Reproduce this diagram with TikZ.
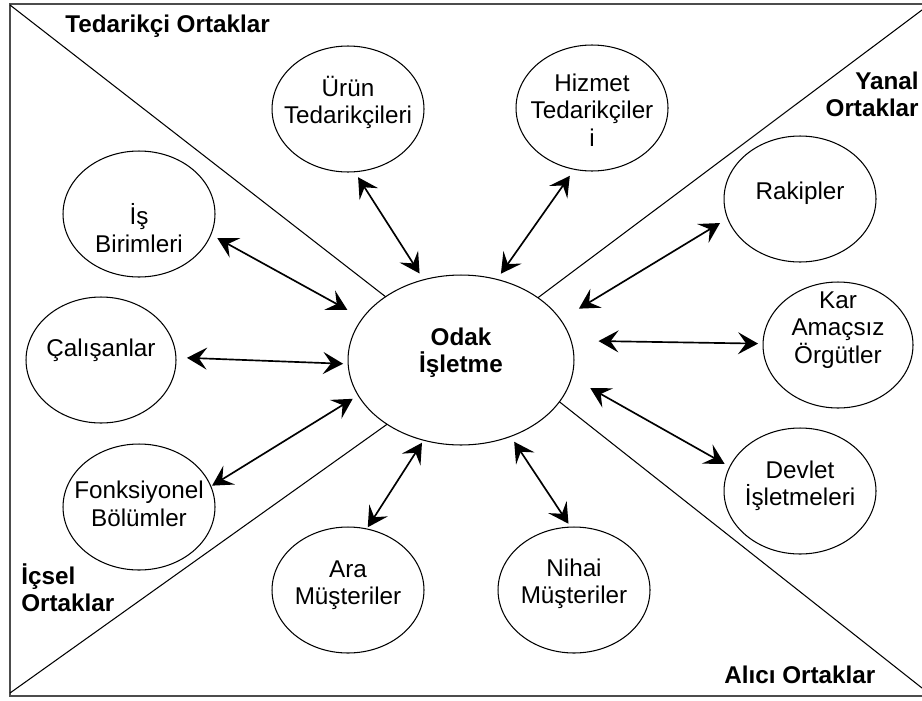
\documentclass[tikz,border=0pt]{standalone}
\usepackage{fontspec}
\setmainfont{Liberation Sans}
\usetikzlibrary{arrows.meta,shapes.geometric}

\tikzset{
  frameline/.style={draw=black!70, line width=1.1pt},
  divider/.style={draw=black, line width=0.6pt},
  ent/.style={ellipse, draw=black, line width=0.6pt, inner sep=0pt, outer sep=0pt,
              minimum width=3.04cm, minimum height=2.52cm},
  focal/.style={ellipse, draw=black, line width=0.6pt, inner sep=0pt, outer sep=0pt,
              minimum width=4.52cm, minimum height=3.4cm},
  txt/.style={align=center, inner sep=0pt, font=\fontsize{13.8}{15.6}\selectfont},
  group/.style={inner sep=0pt, font=\fontsize{13.8}{15.4}\selectfont\bfseries},
  tip/.style={Stealth[length=0.4cm, width=0.44cm, inset=0.16cm]},
  link/.style={line width=0.95pt, {Stealth[length=0.4cm, width=0.44cm, inset=0.16cm]}-{Stealth[length=0.4cm, width=0.44cm, inset=0.16cm]}}
}

\begin{document}
\begin{tikzpicture}[x=0.02cm, y=-0.02cm]
\useasboundingbox (0,0) rectangle (922,700);

% outer frame (open on the right)
\draw[frameline] (922,4) -- (10,4) -- (10,696) -- (922,696);

% focal firm
\node[focal] (odak) at (461,360) {};
\node[txt, font=\fontsize{13.8}{15.2}\selectfont\bfseries, yshift=0.14cm] (odakT) at (odak) {Odak\\İşletme};

% corners of the four partner sectors
\coordinate (tl) at (10,5);
\coordinate (tr) at (922,10);
\coordinate (bl) at (10,693);
\coordinate (br) at (922,688);
\draw[divider] (tl) -- (odak.140);
\draw[divider] (tr) -- (odak.39.7);
\draw[divider] (bl) -- (odak.-139.5);
\draw[divider] (br) -- (odak.-23.9);

% sector titles
\node[group, anchor=west] (tedG) at (65,26) {Tedarikçi Ortaklar};
\node[group, anchor=east, align=right] (yanG) at (919,94) {Yanal\\Ortaklar};
\node[group, anchor=west, align=left] (icG) at (21,588) {İçsel\\Ortaklar};
\node[group, anchor=west] (aliG) at (724,675) {Alıcı Ortaklar};

% partner ellipses
\node[ent] (urun) at (348,109) {};
\node[txt, yshift=0.13cm] (urunT) at (urun) {Ürün\\Tedarikçileri};
\node[ent] (hizmet) at (592,108) {};
\node[txt, yshift=-0.04cm] (hizmetT) at (hizmet) {Hizmet\\Tedarikçiler\\i};
\node[ent] (is) at (139,214) {};
\node[txt, yshift=-0.28cm] (isT) at (is) {İş\\Birimleri};
\node[ent, minimum width=3cm] (cal) at (101,360) {};
\node[txt, yshift=0.2cm] (calT) at (cal) {Çalışanlar};
\node[ent] (fonk) at (139,507) {};
\node[txt, yshift=0.06cm] (fonkT) at (fonk) {Fonksiyonel\\Bölümler};
\node[ent] (ara) at (348,590) {};
\node[txt, yshift=0.1cm] (araT) at (ara) {Ara\\Müşteriler};
\node[ent] (nihai) at (574,590) {};
\node[txt, yshift=0.12cm] (nihaiT) at (nihai) {Nihai\\Müşteriler};
\node[ent] (rak) at (800,199) {};
\node[txt, yshift=0.12cm] (rakT) at (rak) {Rakipler};
\node[ent, minimum width=3cm] (kar) at (838,345) {};
\node[txt, yshift=0.3cm] (karT) at (kar) {Kar\\Amaçsız\\Örgütler};
\node[ent] (dev) at (800,491) {};
\node[txt, yshift=0.1cm] (devT) at (dev) {Devlet\\İşletmeleri};

% two-way relations with the focal firm
\draw[link, shorten <=0.13cm, shorten >=0.15cm] (urun.-84) -- (odak.115);
\draw[link, shorten <=0.16cm, shorten >=0.14cm] (hizmet.-106) -- (odak.66);
\draw[link, shorten <=0.15cm, shorten >=0.35cm] (is.-16) -- (odak.157);
\draw[link, shorten <=0.22cm, shorten >=0.10cm] (cal.2) -- (odak.182);
\draw[link, shorten <=0.03cm, shorten >=0.13cm] (fonk.16) -- (odak.199);
\draw[link, shorten <=0.04cm, shorten >=0.06cm] (ara.73) -- (odak.245);
\draw[link, shorten <=0.08cm, shorten >=0.13cm] (nihai.93) -- (odak.-57);
\draw[link, shorten <=0.18cm, shorten >=0.43cm] (rak.195) -- (odak.22);
\draw[link, shorten <=0.10cm, shorten >=0.55cm] (kar.179) -- (odak.10);
\draw[link, shorten <=0.12cm, shorten >=0.43cm] (dev.161) -- (odak.-9);
\end{tikzpicture}
\end{document}
